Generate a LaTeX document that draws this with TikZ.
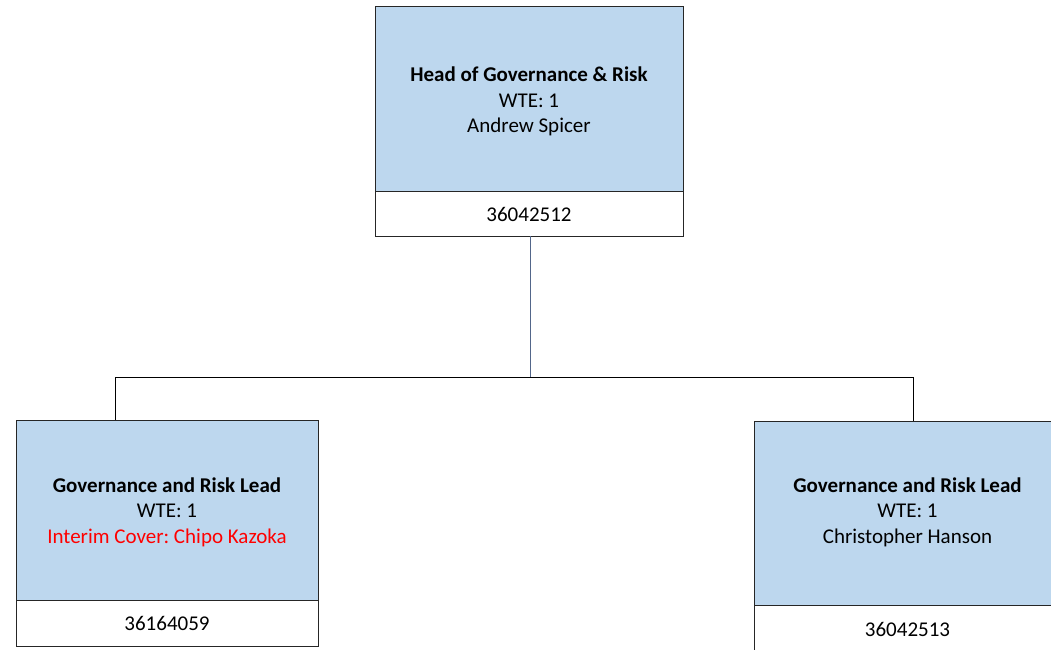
\documentclass[tikz,border=0pt]{standalone}
\usepackage{fontspec}
\setmainfont{Carlito}
\frenchspacing
\definecolor{boxblue}{HTML}{BDD7EE}
\definecolor{boxline}{HTML}{262626}
\definecolor{vline}{HTML}{52668A}
\newcommand{\boxtext}[2]{\raisebox{-#1}[\height][\depth]{\begin{tabular}{@{}c@{}}#2\end{tabular}}}
\tikzset{
  x=1pt, y=-1pt,
  bluebox/.style={draw=boxline, line width=0.9pt, fill=boxblue, rectangle, inner sep=0pt, align=center, font=\fontsize{21}{25.5}\selectfont},
  numbox/.style={draw=boxline, line width=0.9pt, fill=white, rectangle, inner sep=0pt, align=center, font=\fontsize{21}{25.5}\selectfont},
  conn/.style={draw=black, line width=1pt},
}
\begin{document}
\begin{tikzpicture}
\useasboundingbox (0,0) rectangle (1051,649);
% top
\node[bluebox, minimum width=308pt, minimum height=185pt] (head) at (529,98.5)
  {\boxtext{3.5pt}{\textbf{Head of Governance \& Risk}\\WTE: 1\\Andrew Spicer}};
\node[numbox, minimum width=308pt, minimum height=45pt] (headnum) at (529,213.5) {\boxtext{3pt}{36042512}};
% left
\node[bluebox, minimum width=302pt, minimum height=180pt] (lead1) at (167,510)
  {\boxtext{2.5pt}{\textbf{Governance and Risk Lead}\\WTE: 1\\\textcolor{red}{Interim Cover: Chipo Kazoka}}};
\node[numbox, minimum width=302pt, minimum height=46pt] (lead1num) at (167,623) {\boxtext{2pt}{36164059}};
% right
\node[bluebox, minimum width=307pt, minimum height=184pt] (lead2) at (907.5,513)
  {\boxtext{-0.5pt}{\textbf{Governance and Risk Lead}\\WTE: 1\\Christopher Hanson}};
\node[numbox, minimum width=307pt, minimum height=46pt] (lead2num) at (907.5,628) {\boxtext{3pt}{36042513}};
% connectors
\coordinate (jn) at (530,377);
\coordinate (jl) at (115,377);
\coordinate (jr) at (913,377);
\draw[conn] (jl) -- (jr);
\draw[conn] (jl) -- (jl |- lead1.north);
\draw[conn] (jr) -- (jr |- lead2.north);
\draw[draw=vline, line width=1pt] (headnum.south -| jn) -- (jn);
\end{tikzpicture}
\end{document}
